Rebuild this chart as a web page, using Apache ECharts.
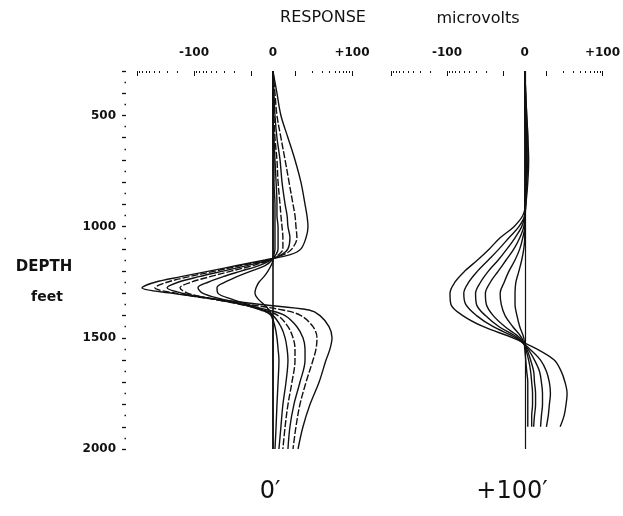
<!DOCTYPE html>
<html><head><meta charset="utf-8">
<script src="https://cdn.jsdelivr.net/npm/echarts@6/dist/echarts.min.js"></script>
<style>html,body{margin:0;padding:0;background:#fff}#c{width:623px;height:516px}</style>
</head><body><div id="c"></div>
<script>
// Depth (feet) sampling for the two panels
const depthLeft = [300,400,500,600,700,800,900,950,1000,1050,1100,1125,1150,1175,1200,1225,1250,1275,1300,1325,1350,1375,1400,1450,1500,1550,1600,1700,1800,1900,2000];
// Response (microvolts) - panel "0'"
const left1 = [0,1.8,3.6,6.8,10,12.7,15,16.2,16.9,15.6,12.7,8.2,-3.6,-17.6,-54.6,-169,-483,-817,-234,-42.8,-5.5,17.6,27.5,39.5,44.6,41.1,35,26.4,18.3,13.8,11.3];
const left2 = [0,0.9,1.8,3.6,5.5,7.3,9.1,10,10.4,10.8,8.6,5,-2.7,-15,-42.8,-122,-297,-483,-199,-50.3,-11.3,4.5,12.7,20.7,24.3,23.4,20.7,15.6,12.2,10.4,9.1];
const left3 = [0,0.45,0.9,1.8,3.2,4.1,5.5,6.4,6.8,7.7,6.8,4.1,-1.8,-11.8,-31,-81.8,-191,-297,-156,-46.4,-13.8,-2.3,5.5,10.8,13.8,15,15,12.2,9.5,7.7,6.8];
const left4 = [0,0,0.45,0.9,1.8,2.3,3.2,3.6,4.1,4.5,4.5,2.7,-1.4,-9.1,-22.4,-52.4,-113,-176,-127,-46.4,-15,-4.5,2.3,6.8,9.1,10,10,8.6,6.8,5.5,4.5];
const left5 = [0,0,0,0.45,0.9,1.4,1.8,1.8,2.3,2.3,2.3,1.4,-0.9,-6.4,-15,-31,-56.8,-85.2,-69.4,-33.6,-13.8,-5.5,0,3.6,5.5,6.4,6.8,5.9,4.5,3.6,2.7];
const left6 = [0,0,0,0,0.45,0.45,0.9,0.9,0.9,0.9,0.9,0.45,-0.45,-3.6,-10,-17.6,-28.6,-39.5,-37.9,-22.4,-11.3,-4.5,-0.9,0.9,1.8,2.3,2.7,2.3,1.8,1.4,0.9];
const left7 = [0,0,0,0,0,0,0,0,0,0,0,0,0,-0.9,-2.3,-4.1,-6.4,-7.7,-8.2,-6.8,-4.1,-1.8,-0.45,0,0,0,0,0,0,0,0];

const depthRight = [300,400,500,600,700,800,900,950,1000,1050,1100,1150,1200,1250,1300,1350,1400,1450,1500,1550,1600,1650,1700,1750,1800,1850,1900];
// Response (microvolts) - panel "+100'"
const right1 = [0,0.45,0.9,1.4,1.8,1.4,0.45,-0.9,-5,-11.3,-17.6,-28.6,-48.3,-72.4,-88.7,-85.2,-52.4,-22.4,-5.5,5.5,13.8,18.3,21.5,23.4,22.4,20.7,17.6];
const right2 = [0,0.45,0.9,1.4,1.4,0.9,0.45,0,-2.7,-7.3,-11.8,-18.3,-28.6,-41.1,-50.3,-46.4,-29.8,-15,-4.1,2.3,7.3,10,11.3,11.8,11.3,10.8,10];
const right3 = [0,0,0.45,0.9,0.9,0.9,0.45,0,-1.4,-4.5,-8.2,-12.2,-18.3,-25.3,-31,-29.8,-20.7,-11.8,-3.2,1.4,4.5,6.8,7.7,8.2,8.2,7.7,7.3];
const right4 = [0,0,0.45,0.45,0.45,0.45,0,0,-0.45,-2.3,-5,-8.6,-12.2,-16.9,-20.7,-19.9,-15,-9.1,-2.3,0.9,2.7,4.1,4.5,5,5,4.5,4.1];
const right5 = [0,0,0,0.45,0.45,0.45,0,0,0,-0.9,-2.3,-4.5,-7.3,-9.5,-11.3,-10.8,-9.1,-5.5,-1.4,0.45,1.8,2.7,3.2,3.6,3.6,3.2,3.2];
const right6 = [0,0,0,0,0,0,0,0,0,0,-0.45,-1.4,-2.7,-4.1,-4.5,-4.5,-3.6,-2.3,-0.45,0,0.45,0.9,1.4,1.4,1.4,1.4,1.4];

// Axis tick values / labels
const responseLabels = [-100, 0, 100];
const responseMajorTicks = [-1000, -100, -10, 10, 100];
const responseMinorTicks = [-900,-800,-700,-600,-500,-400,-300,-200,-90,-80,-70,-60,-50,-40,-30,-20,20,30,40,50,60,70,80,90];
const depthLabels = [500, 1000, 1500, 2000];
const panelNames = ['0\u2032', '+100\u2032'];

// symmetric-log response scale (linear within ±10 µV)
const LIN = 22 / 57;
function T(v) {
  const s = v < 0 ? -1 : 1, a = Math.abs(v);
  return a <= 10 ? s * a / 10 * LIN : s * (LIN + Math.log10(a / 10));
}
function invT(t) {
  const s = t < 0 ? -1 : 1, a = Math.abs(t);
  return a <= LIN ? s * a / LIN * 10 : s * 10 * Math.pow(10, a - LIN);
}
const XMIN = T(-1000), XMAX = T(100);
const INK = '#111';
const FONT = '"DejaVu Sans", "Liberation Sans", sans-serif';

function topAxis(gridIndex, major) {
  return {
    type: 'value', gridIndex, position: 'top', min: XMIN, max: XMAX,
    axisLine: { show: false, onZero: false }, splitLine: { show: false },
    axisTick: major
      ? { show: true, inside: true, length: 5, customValues: responseMajorTicks.map(T), lineStyle: { color: INK, width: 1 } }
      : { show: true, inside: true, length: 2, customValues: responseMinorTicks.map(T), lineStyle: { color: INK, width: 1 } },
    axisLabel: major
      ? { show: true, customValues: responseLabels.map(T), margin: 12, color: INK, fontFamily: FONT, fontWeight: 'bold', fontSize: 12,
          formatter: t => { const v = Math.round(invT(t)); return v > 0 ? '+' + v : String(v); } }
      : { show: false }
  };
}

function mk(depths, vals) { return depths.map((d, i) => [T(vals[i]), d]); }

const leftCurves = [left1, left2, left3, left4, left5, left6, left7];
const rightCurves = [right1, right2, right3, right4, right5, right6];
const leftDash = ['solid', [7, 2], 'solid', [7, 2], 'solid', 'solid', 'solid'];

const series = [];
leftCurves.forEach((c, i) => series.push({
  type: 'line', xAxisIndex: 0, yAxisIndex: 0, data: mk(depthLeft, c),
  showSymbol: false, smooth: 0.35, lineStyle: { color: INK, width: 1.4, type: leftDash[i] },
  markLine: i === 0 ? { silent: true, symbol: 'none', label: { show: false }, data: [{ xAxis: 0 }], lineStyle: { color: INK, width: 1.6, type: 'solid' } } : undefined
}));
rightCurves.forEach((c, i) => series.push({
  type: 'line', xAxisIndex: 2, yAxisIndex: 1, data: mk(depthRight, c),
  showSymbol: false, smooth: 0.35, lineStyle: { color: INK, width: 1.4 },
  markLine: i === 0 ? { silent: true, symbol: 'none', label: { show: false }, data: [{ xAxis: 0 }], lineStyle: { color: INK, width: 1.2, type: 'solid' } } : undefined
}));

const yBase = {
  type: 'value', inverse: true, min: 300, max: 2000, interval: 100, splitLine: { show: false }
};

const option = {
  animation: false,
  backgroundColor: '#fff',
  grid: [
    { left: 137, top: 71, width: 215, height: 378 },
    { left: 391, top: 71, width: 215, height: 378 }
  ],
  xAxis: [topAxis(0, true), topAxis(0, false), topAxis(1, true), topAxis(1, false)],
  yAxis: [
    Object.assign({}, yBase, {
      gridIndex: 0, position: 'left', offset: 11,
      axisLine: { show: false, onZero: false },
      axisTick: { show: true, length: 4, lineStyle: { color: INK, width: 1.3 } },
      minorTick: { show: true, splitNumber: 2, length: 1.5, lineStyle: { color: INK, width: 1.3 } },
      axisLabel: { customValues: depthLabels, margin: 10, color: INK, fontFamily: FONT, fontWeight: 'bold', fontSize: 12,
        formatter: v => String(v) }
    }),
    Object.assign({}, yBase, { gridIndex: 1, show: false, axisLine: { show: false, onZero: false } })
  ],
  graphic: [
    { type: 'text', x: 323, y: 18, style: { text: 'RESPONSE', font: '16px ' + FONT, fill: INK, textAlign: 'center', textVerticalAlign: 'middle' } },
    { type: 'text', x: 478, y: 19, style: { text: 'microvolts', font: '16px ' + FONT, fill: INK, textAlign: 'center', textVerticalAlign: 'middle' } },
    { type: 'text', x: 44, y: 267, style: { text: 'DEPTH', font: 'bold 15px ' + FONT, fill: INK, textAlign: 'center', textVerticalAlign: 'middle' } },
    { type: 'text', x: 47, y: 297, style: { text: 'feet', font: 'bold 14px ' + FONT, fill: INK, textAlign: 'center', textVerticalAlign: 'middle' } },
    { type: 'text', x: 270, y: 492, style: { text: panelNames[0], font: '24px ' + FONT, fill: INK, textAlign: 'center', textVerticalAlign: 'middle' } },
    { type: 'text', x: 512, y: 492, style: { text: panelNames[1], font: '24px ' + FONT, fill: INK, textAlign: 'center', textVerticalAlign: 'middle' } }
  ],
  series
};
const chart = echarts.init(document.getElementById('c'), null, { renderer: 'canvas' });
chart.setOption(option);
</script></body></html>
